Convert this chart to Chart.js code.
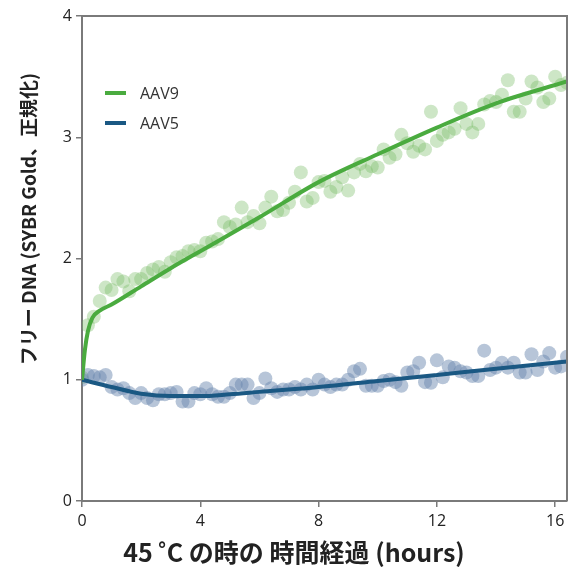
<!DOCTYPE html>
<html>
<head>
<meta charset="utf-8">
<script src="https://cdn.jsdelivr.net/npm/chart.js@4"></script>
<style>
  html, body { margin: 0; padding: 0; background: #fff; }
  #wrap { width: 576px; height: 569px; }
</style>
</head>
<body>
<div id="wrap"><canvas id="grafico"></canvas></div>
<script>
// measured time points (hours)
const horas = [0, 0.2, 0.4, 0.6, 0.8, 1, 1.2, 1.4, 1.6, 1.8, 2, 2.2, 2.4, 2.6, 2.8, 3, 3.2, 3.4, 3.6, 3.8,
  4, 4.2, 4.4, 4.6, 4.8, 5, 5.2, 5.4, 5.6, 5.8, 6, 6.2, 6.4, 6.6, 6.8, 7, 7.2, 7.4, 7.6, 7.8,
  8, 8.2, 8.4, 8.6, 8.8, 9, 9.2, 9.4, 9.6, 9.8, 10, 10.2, 10.4, 10.6, 10.8, 11, 11.2, 11.4, 11.6, 11.8,
  12, 12.2, 12.4, 12.6, 12.8, 13, 13.2, 13.4, 13.6, 13.8, 14, 14.2, 14.4, 14.6, 14.8, 15, 15.2, 15.4, 15.6, 15.8,
  16, 16.2, 16.4];

const aav9 = [1.02, 1.45, 1.52, 1.65, 1.76, 1.74, 1.83, 1.81, 1.73, 1.83, 1.83, 1.88, 1.91, 1.93, 1.89, 1.97, 2.01, 2.02, 2.06, 2.07,
  2.06, 2.13, 2.14, 2.16, 2.30, 2.26, 2.28, 2.42, 2.30, 2.35, 2.29, 2.42, 2.51, 2.39, 2.40, 2.46, 2.55, 2.71, 2.47, 2.50,
  2.63, 2.64, 2.55, 2.59, 2.67, 2.56, 2.71, 2.78, 2.72, 2.76, 2.75, 2.90, 2.83, 2.86, 3.02, 2.95, 2.88, 2.93, 2.90, 3.21,
  2.97, 3.02, 3.04, 3.07, 3.24, 3.11, 3.04, 3.11, 3.27, 3.30, 3.29, 3.35, 3.47, 3.21, 3.21, 3.32, 3.46, 3.41, 3.29, 3.32,
  3.50, 3.43, 3.45];

const aav5 = [1.00, 1.04, 1.03, 1.02, 1.04, 0.94, 0.92, 0.93, 0.89, 0.85, 0.89, 0.85, 0.83, 0.88, 0.88, 0.89, 0.90, 0.82, 0.82, 0.89,
  0.88, 0.93, 0.88, 0.86, 0.86, 0.89, 0.96, 0.96, 0.96, 0.85, 0.89, 1.01, 0.93, 0.90, 0.92, 0.92, 0.94, 0.92, 0.96, 0.92,
  1.00, 0.96, 0.94, 0.96, 0.96, 1.00, 1.07, 1.09, 0.95, 0.95, 0.95, 0.99, 1.00, 0.98, 0.95, 1.06, 1.07, 1.14, 0.98, 0.975,
  1.16, 1.02, 1.11, 1.10, 1.07, 1.06, 1.03, 1.03, 1.24, 1.08, 1.10, 1.14, 1.10, 1.14, 1.06, 1.06, 1.21, 1.08, 1.15, 1.22,
  1.10, 1.11, 1.19];

// fitted curves
const ajuste9Horas = [0, 0.1, 0.2, 0.35, 0.6, 1, 2, 3, 4, 6, 8, 10, 12, 14, 16.4];
const ajuste9 = [1.0, 1.25, 1.40, 1.51, 1.57, 1.62, 1.77, 1.92, 2.06, 2.34, 2.63, 2.86, 3.08, 3.28, 3.46];
const ajuste5Horas = [0, 1, 2, 3, 4, 5, 6, 8, 10, 12, 14, 16.4];
const ajuste5 = [1.0, 0.94, 0.885, 0.865, 0.865, 0.88, 0.90, 0.94, 0.99, 1.04, 1.09, 1.15];

const ticksX = [0, 4, 8, 12, 16];
const ticksY = [0, 1, 2, 3, 4];

const verde = '#4aab3f';
const azul = '#1a5883';
const cinza = '#7a7a7a';

const pontos = (xs, ys) => xs.map((x, i) => ({ x: x, y: ys[i] }));

// frame, titles and legend
const extras = {
  id: 'extras',
  afterDraw(chart) {
    const ctx = chart.ctx;
    const a = chart.chartArea;
    ctx.save();
    ctx.strokeStyle = cinza;
    ctx.lineWidth = 2;
    ctx.beginPath();
    ctx.moveTo(a.left, a.top);
    ctx.lineTo(a.right, a.top);
    ctx.lineTo(a.right, a.bottom);
    ctx.stroke();

    // legend
    const itens = [['AAV9', verde], ['AAV5', azul]];
    ctx.font = '16px "Open Sans", "Noto Sans", sans-serif';
    ctx.textBaseline = 'middle';
    ctx.textAlign = 'left';
    itens.forEach((it, i) => {
      const y = 93 + i * 30;
      ctx.strokeStyle = it[1];
      ctx.lineWidth = 4;
      ctx.beginPath();
      ctx.moveTo(105, y);
      ctx.lineTo(126, y);
      ctx.stroke();
      ctx.fillStyle = '#333';
      ctx.fillText(it[0], 140, y + 1);
    });

    // axis titles
    ctx.fillStyle = '#222';
    ctx.textAlign = 'center';
    ctx.font = 'bold 25px "Noto Sans CJK JP", sans-serif';
    ctx.fillText('45 ˚C の時の 時間経過 (hours)', 294, 552);
    ctx.translate(29, 219);
    ctx.rotate(-Math.PI / 2);
    ctx.font = 'bold 19px "Noto Sans CJK JP", sans-serif';
    ctx.fillText('フリー DNA (SYBR Gold、正規化)', 0, 0);
    ctx.restore();
  }
};

new Chart(document.getElementById('grafico').getContext('2d'), {
  type: 'scatter',
  data: {
    datasets: [
      {
        label: 'AAV9 pontos',
        data: pontos(horas, aav9),
        backgroundColor: 'rgba(117,187,97,0.36)',
        borderWidth: 0,
        pointRadius: 7,
        order: 3
      },
      {
        label: 'AAV5 pontos',
        data: pontos(horas, aav5),
        backgroundColor: 'rgba(105,133,173,0.48)',
        borderWidth: 0,
        pointRadius: 7,
        order: 2
      },
      {
        label: 'AAV5',
        data: pontos(ajuste5Horas, ajuste5),
        showLine: true,
        borderColor: azul,
        borderWidth: 4,
        pointRadius: 0,
        cubicInterpolationMode: 'monotone',
        order: 1
      },
      {
        label: 'AAV9',
        data: pontos(ajuste9Horas, ajuste9),
        showLine: true,
        borderColor: verde,
        borderWidth: 4,
        pointRadius: 0,
        cubicInterpolationMode: 'monotone',
        order: 0
      }
    ]
  },
  options: {
    responsive: true,
    maintainAspectRatio: false,
    animation: false,
    layout: { padding: { left: 0, top: 16, right: 9, bottom: 0 } },
    plugins: {
      legend: { display: false },
      tooltip: { enabled: false }
    },
    scales: {
      x: {
        type: 'linear',
        min: 0,
        max: 16.4,
        afterFit: s => { s.height = 68; },
        afterBuildTicks: s => { s.ticks = ticksX.map(v => ({ value: v })); },
        border: { color: cinza, width: 2 },
        grid: { drawOnChartArea: false, drawTicks: true, tickLength: 6, color: cinza, lineWidth: 1.5 },
        ticks: { color: '#222', font: { size: 16, family: '"Open Sans", "Noto Sans", sans-serif' }, padding: 5 }
      },
      y: {
        min: 0,
        max: 4,
        afterFit: s => { s.width = 82; },
        afterBuildTicks: s => { s.ticks = ticksY.map(v => ({ value: v })); },
        border: { color: cinza, width: 2 },
        grid: { drawOnChartArea: false, drawTicks: true, tickLength: 6, color: cinza, lineWidth: 1.5 },
        ticks: { color: '#222', font: { size: 16, family: '"Open Sans", "Noto Sans", sans-serif' }, padding: 4 }
      }
    }
  },
  plugins: [extras]
});
</script>
</body>
</html>
